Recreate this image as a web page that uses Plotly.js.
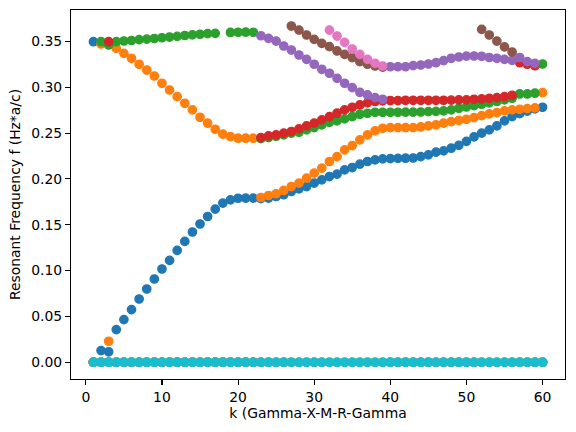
<!DOCTYPE html>
<html>
<head>
<meta charset="utf-8">
<script src="https://cdn.plot.ly/plotly-3.0.1.min.js"></script>
<style>html,body{margin:0;padding:0;background:#fff}#chart{width:576px;height:432px}</style>
</head>
<body>
<div id="chart"></div>
<script>
// k index along the path Gamma-X-M-R-Gamma
const kValues = [1,2,3,4,5,6,7,8,9,10,11,12,13,14,15,16,17,18,19,20,
  21,22,23,24,25,26,27,28,29,30,31,32,33,34,35,36,37,38,39,40,
  41,42,43,44,45,46,47,48,49,50,51,52,53,54,55,56,57,58,59,60];

// Resonant frequencies, i-th found mode at each k (0 = not found)
const mode1 = [0.3497,0.0127,0.0114,0.0356,0.0465,0.0574,0.0690,0.0799,0.0908,0.1017,
  0.1111,0.1220,0.1318,0.1421,0.1508,0.1590,0.1671,0.1736,0.1771,0.1789,
  0.1790,0.1791,0.1785,0.1791,0.1808,0.1827,0.1863,0.1892,0.1917,0.1954,
  0.1990,0.2026,0.2052,0.2099,0.2124,0.2161,0.2190,0.2208,0.2219,0.2222,
  0.2224,0.2226,0.2228,0.2244,0.2262,0.2292,0.2306,0.2335,0.2366,0.2410,
  0.2458,0.2500,0.2535,0.2578,0.2633,0.2680,0.2712,0.2740,0.2765,0.2782];
const mode2 = [0,0.3472,0.0229,0.3424,0.3370,0.3316,0.3251,0.3188,0.3123,0.3044,
  0.2970,0.2898,0.2825,0.2753,0.2673,0.2608,0.2542,0.2488,0.2462,0.2444,
  0.2444,0.2444,0.1797,0.1819,0.1838,0.1874,0.1917,0.1954,0.2009,0.2063,
  0.2118,0.2190,0.2244,0.2317,0.2364,0.2426,0.2480,0.2524,0.2553,0.2560,
  0.2560,0.2560,0.2560,0.2567,0.2578,0.2589,0.2608,0.2625,0.2638,0.2651,
  0.2669,0.2691,0.2709,0.2723,0.2742,0.2753,0.2760,0.2767,0.2775,0.2941];
const mode3 = [0,0.3497,0.3461,0.3497,0.3505,0.3510,0.3520,0.3525,0.3532,0.3540,
  0.3548,0.3555,0.3565,0.3572,0.3578,0.3585,0.3588,0,0.3598,0.3600,
  0.3601,0.3600,0.2440,0.2451,0.2465,0.2480,0.2499,0.2509,0.2535,0.2560,
  0.2589,0.2618,0.2633,0.2655,0.2680,0.2705,0.2716,0.2727,0.2727,0.2727,
  0.2727,0.2728,0.2728,0.2730,0.2734,0.2737,0.2742,0.2753,0.2771,0.2785,
  0.2800,0.2815,0.2830,0.2845,0.2862,0.2880,0.2927,0.2927,0.2935,0.3254];
const mode4 = [0,0,0.3497,0,0,0,0,0,0,0,
  0,0,0,0,0,0,0,0,0,0,
  0,0,0.2451,0.2469,0.2480,0.2499,0.2517,0.2546,0.2578,0.2608,
  0.2644,0.2680,0.2717,0.2753,0.2782,0.2807,0.2830,0.2845,0.2852,0.2855,
  0.2855,0.2858,0.2858,0.2858,0.2858,0.2858,0.2858,0.2860,0.2862,0.2862,
  0.2869,0.2873,0.2880,0.2887,0.2898,0.2913,0.3268,0.3251,0.3235,0];
const mode5 = [0,0,0,0,0,0,0,0,0,0,
  0,0,0,0,0,0,0,0,0,0,
  0,0,0.3562,0.3534,0.3504,0.3450,0.3406,0.3352,0.3305,0.3251,
  0.3196,0.3153,0.3098,0.3044,0.2996,0.2945,0.2916,0.2887,0.2869,0.3224,
  0.3224,0.3224,0.3236,0.3243,0.3254,0.3268,0.3290,0.3316,0.3330,0.3340,
  0.3341,0.3338,0.3325,0.3316,0.3305,0.3293,0.3325,0.3279,0.3261,0];
const mode6 = [0,0,0,0,0,0,0,0,0,0,
  0,0,0,0,0,0,0,0,0,0,
  0,0,0,0,0,0,0.3668,0.3624,0.3570,0.3523,
  0.3479,0.3443,0.3396,0.3359,0.3323,0.3279,0.3251,0.3232,0.3220,0,
  0,0,0,0,0,0,0,0,0,0,
  0,0.3632,0.3570,0.3504,0.3440,0.3385,0,0,0,0];
const mode7 = [0,0,0,0,0,0,0,0,0,0,
  0,0,0,0,0,0,0,0,0,0,
  0,0,0,0,0,0,0,0,0,0,
  0,0.3624,0.3559,0.3490,0.3417,0.3359,0.3305,0.3261,0.3232,0,
  0,0,0,0,0,0,0,0,0,0,
  0,0,0,0,0,0,0,0,0,0];
const mode8 = [0,0,0,0,0,0,0,0,0,0,0,0,0,0,0,0,0,0,0,0,
  0,0,0,0,0,0,0,0,0,0,0,0,0,0,0,0,0,0,0,0,
  0,0,0,0,0,0,0,0,0,0,0,0,0,0,0,0,0,0,0,0];
const mode9 = [0,0,0,0,0,0,0,0,0,0,0,0,0,0,0,0,0,0,0,0,
  0,0,0,0,0,0,0,0,0,0,0,0,0,0,0,0,0,0,0,0,
  0,0,0,0,0,0,0,0,0,0,0,0,0,0,0,0,0,0,0,0];
const mode10 = [0,0,0,0,0,0,0,0,0,0,0,0,0,0,0,0,0,0,0,0,
  0,0,0,0,0,0,0,0,0,0,0,0,0,0,0,0,0,0,0,0,
  0,0,0,0,0,0,0,0,0,0,0,0,0,0,0,0,0,0,0,0];

const xTickVals = [0,10,20,30,40,50,60];
const yTickVals = [0,0.05,0.10,0.15,0.20,0.25,0.30,0.35];

const modes = [mode1,mode2,mode3,mode4,mode5,mode6,mode7,mode8,mode9,mode10];
const colors = ['#1f77b4','#ff7f0e','#2ca02c','#d62728','#9467bd',
                '#8c564b','#e377c2','#7f7f7f','#bcbd22','#17becf'];

const traces = modes.map((m,i)=>({
  x: kValues, y: m, type:'scatter', mode:'markers',
  marker:{size:8.4, color:colors[i], line:{width:1.3, color:colors[i]}},
  hoverinfo:'skip', showlegend:false
}));

const font = {family:'DejaVu Sans, sans-serif', size:13.9, color:'#000'};
const layout = {
  width:576, height:432,
  margin:{l:71, r:11, t:10, b:53, pad:0},
  paper_bgcolor:'#fff', plot_bgcolor:'#fff',
  font: font,
  showlegend:false,
  xaxis:{
    range:[-1.95,62.95], tickvals:xTickVals, ticktext:xTickVals.map(String),
    ticks:'outside', ticklen:4.9, tickwidth:1.1, tickcolor:'#000',
    showline:true, mirror:true, linecolor:'#000', linewidth:1.1,
    showgrid:false, zeroline:false, tickfont:font,
    title:{text:'k (Gamma-X-M-R-Gamma', font:font, standoff:4}
  },
  yaxis:{
    range:[-0.0183,0.3843], tickvals:yTickVals, ticktext:yTickVals.map(v=>v.toFixed(2)),
    ticks:'outside', ticklen:4.9, tickwidth:1.1, tickcolor:'#000',
    showline:true, mirror:true, linecolor:'#000', linewidth:1.1,
    showgrid:false, zeroline:false, tickfont:font,
    title:{text:'Resonant Frequency f (Hz*a/c)', font:font, standoff:7}
  }
};
Plotly.newPlot('chart', traces, layout, {staticPlot:true, displayModeBar:false});
</script>
</body>
</html>
